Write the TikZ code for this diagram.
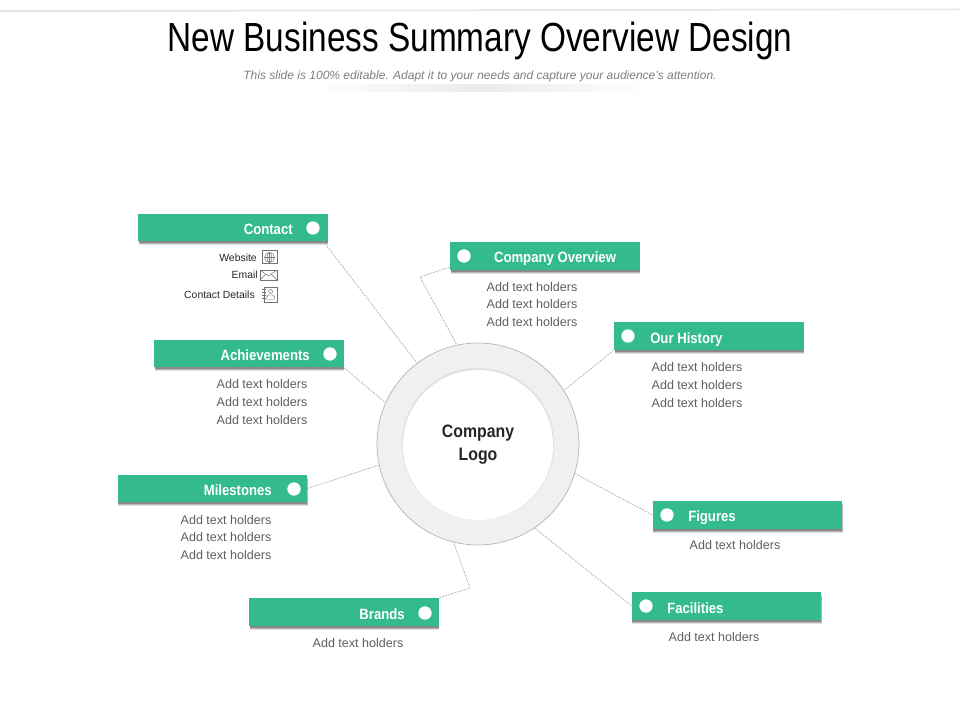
\documentclass[tikz,border=0pt]{standalone}
\usepackage{fontspec}
\setmainfont{Liberation Sans}
\newfontfamily\titlefont[FakeStretch=0.82]{Liberation Sans}
\newfontfamily\barfont[FakeStretch=0.88]{Liberation Sans}
\usetikzlibrary{fadings}
\definecolor{barcol}{HTML}{33BB8C}
\definecolor{holder}{HTML}{5F5F5F}
\definecolor{linecol}{HTML}{A8A8A8}
\tikzfading[name=sidefade,left color=transparent!100,right color=transparent!100,middle color=transparent!0]
\tikzset{
  x=0.75pt,y=-0.75pt,
  barbox/.style={fill=barcol,draw=none,minimum width=142pt,minimum height=20.6pt,inner sep=0pt,
    preaction={fill=black,opacity=.12,transform canvas={xshift=.4pt,yshift=-3pt}},
    preaction={fill=black,opacity=.18,transform canvas={xshift=.3pt,yshift=-2.2pt}},
    preaction={fill=black,opacity=.25,transform canvas={xshift=.2pt,yshift=-1.4pt}}},
  dotnode/.style={circle,fill=white,draw=none,minimum size=10pt,inner sep=0pt},
  barlabel/.style={font=\barfont\bfseries\fontsize{11.2}{13}\selectfont,text=white,inner sep=0pt},
  holdertext/.style={font=\fontsize{9.4}{13.3}\selectfont,text=holder,align=center,inner sep=0pt},
  contacttext/.style={font=\fontsize{7.8}{10}\selectfont,text=black!85,inner sep=0pt,anchor=mid east},
  link/.style={draw=linecol,line width=0.45pt,dash pattern=on 1.6pt off 0.8pt},
  iconline/.style={draw=black!55,line width=0.35pt}
}
\begin{document}
\begin{tikzpicture}
\useasboundingbox (0,0) rectangle (960,720);
\fill[white] (0,0) rectangle (960,720);
% top rule and soft band
\fill[black!11] (0,10.5) -- (960,8.5) -- (960,10) -- (0,12) -- cycle;
\fill[black!8,path fading=sidefade] (315,84) rectangle (645,92);
% title
\node[font=\titlefont\fontsize{30.5}{34}\selectfont,text=black,inner sep=0pt] (title) at (480,41) {New Business Summary Overview Design};
\node[font=\itshape\fontsize{9}{11}\selectfont,text=black!50,inner sep=0pt] (subtitle) at (480,76) {This slide is 100\% editable. Adapt it to your needs and capture your audience's attention.};
% ring
\node[circle,fill=black!6,draw=black!30,line width=0.5pt,minimum size=151.5pt,inner sep=0pt] (ring) at (478,444) {};
\fill[black!9] (478,444) circle[radius=76.5];
\fill[black!12] (478,444) circle[radius=75.6];
\node[circle,fill=white,draw=none,minimum size=112.5pt,inner sep=0pt,align=center,
  font=\barfont\bfseries\fontsize{13.5}{17.3}\selectfont,text=black!85] (logo) at (478,445) {Company\\Logo};
% bars
\node[barbox] (contact) at (233,227.5) {};
\node[barbox] (overview) at (545,256) {};
\node[barbox] (history) at (709,336) {};
\node[barbox] (achieve) at (249,353.5) {};
\node[barbox] (miles) at (212.5,488.5) {};
\node[barbox] (figures) at (747.5,515) {};
\node[barbox] (facil) at (726.5,606) {};
\node[barbox] (brands) at (344,612) {};
% dots
\node[dotnode] (dcontact) at (313,228) {};
\node[dotnode] (doverview) at (464,256) {};
\node[dotnode] (dhistory) at (628,336) {};
\node[dotnode] (dachieve) at (330,354) {};
\node[dotnode] (dmiles) at (294,489) {};
\node[dotnode] (dfigures) at (667,515) {};
\node[dotnode] (dfacil) at (646,606) {};
\node[dotnode] (dbrands) at (425,613) {};
% bar labels
\node[barlabel,anchor=mid east] (lcontact) at (293,230.5) {Contact};
\node[barlabel,anchor=mid] (loverview) at (555,258.5) {Company Overview};
\node[barlabel,anchor=mid west] (lhistory) at (650,339.5) {Our History};
\node[barlabel,anchor=mid east] (lachieve) at (310,356.5) {Achievements};
\node[barlabel,anchor=mid east] (lmiles) at (272,491.5) {Milestones};
\node[barlabel,anchor=mid west] (lfigures) at (688,517.5) {Figures};
\node[barlabel,anchor=mid west] (lfacil) at (667,609.5) {Facilities};
\node[barlabel,anchor=mid east] (lbrands) at (405,615.5) {Brands};
% holder texts
\node[holdertext] (toverview) at (532,304.5) {Add text holders\\Add text holders\\Add text holders};
\node[holdertext] (thistory) at (697,385) {Add text holders\\Add text holders\\Add text holders};
\node[holdertext] (tachieve) at (262,402) {Add text holders\\Add text holders\\Add text holders};
\node[holdertext] (tmiles) at (226,537.5) {Add text holders\\Add text holders\\Add text holders};
\node[holdertext] (tfigures) at (735,545) {Add text holders};
\node[holdertext] (tfacil) at (714,637.5) {Add text holders};
\node[holdertext] (tbrands) at (358,643.5) {Add text holders};
% contact details
\node[contacttext] (twebsite) at (257,258) {Website};
\node[contacttext] (temail) at (258,275) {Email};
\node[contacttext] (tdetails) at (255,294.5) {Contact Details};
% icons
\begin{scope}[iconline]
  \draw (262,250) rectangle (277,263);
  \draw (269.5,257.5) circle[radius=5];
  \draw (269.5,252.5) -- (269.5,262.5) (264.5,257.5) -- (274.5,257.5);
  \draw (269.5,257.5) ellipse[x radius=2.4,y radius=5];
  \draw (260,270) rectangle (277,280);
  \draw (260,270) -- (268.5,276) -- (277,270) (260,280) -- (266,274) (277,280) -- (271,274);
  \draw (264,287) rectangle (277,302);
  \draw (270.5,291.5) circle[radius=2];
  \draw (266.5,299.5) -- (266.5,297) -- (268.5,295) -- (272.5,295) -- (274.5,297) -- (274.5,299.5) -- cycle;
  \draw (262,289.5) -- (265.5,289.5) (262,292.5) -- (265.5,292.5) (262,295.5) -- (265.5,295.5) (262,298.5) -- (265.5,298.5);
\end{scope}
% connectors
\coordinate (cA) at (323,241);
\coordinate (cB) at (450,267);
\coordinate (cC) at (420,277);
\coordinate (cD) at (470,588);
\draw[link] (cA) -- (ring.127);
\draw[link] (cB) -- (cC) -- (ring.102.5);
\draw[link] (history.south west) -- (ring.32.6);
\draw[link] (achieve.south east) -- (ring.156);
\draw[link] (miles.east) -- (ring.192.6);
\draw[link] (figures.west) -- (ring.-17.5);
\draw[link] (facil.west) -- (ring.-56);
\draw[link] (brands.north east) -- (cD) -- (ring.256);
\end{tikzpicture}
\end{document}
